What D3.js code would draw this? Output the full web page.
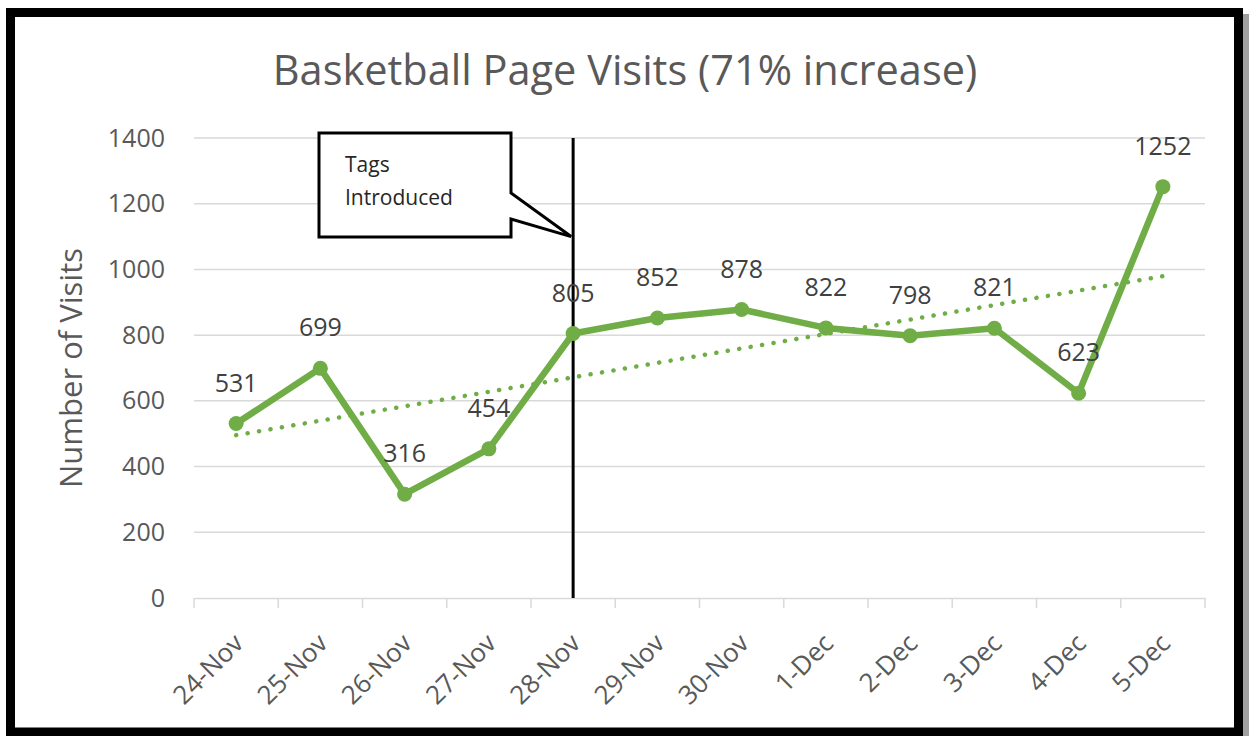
<!DOCTYPE html>
<html><head><meta charset="utf-8">
<script src="https://cdn.jsdelivr.net/npm/d3@7"></script>
<style>body{margin:0;background:#fff}svg{display:block}text{font-family:"Open Sans",sans-serif}</style>
</head><body><svg id="c" width="1249" height="736"></svg>
<script>
const categories=["24-Nov","25-Nov","26-Nov","27-Nov","28-Nov","29-Nov","30-Nov","1-Dec","2-Dec","3-Dec","4-Dec","5-Dec"];
const visits=[531,699,316,454,805,852,878,822,798,821,623,1252];
const yTicks=[0,200,400,600,800,1000,1200,1400];
const markerCategory="28-Nov";
const titleText="Basketball Page Visits (71% increase)";
const yTitle="Number of Visits";
const calloutLines=["Tags","Introduced"];

const svg=d3.select("#c");
const green="#70AD47";
// shadow + frame
svg.append("rect").attr("x",14).attr("y",14).attr("width",1235).attr("height",722).attr("fill","#a0a0a0");
svg.append("rect").attr("x",10.5).attr("y",12.5).attr("width",1228).attr("height",719.5).attr("fill","#fff").attr("stroke","#000").attr("stroke-width",9);

const x=d3.scaleBand().domain(categories).range([194,1205]);
const y=d3.scaleLinear().domain([0,1400]).range([598,138]);

// gridlines
svg.append("g").selectAll("line").data(yTicks.filter(d=>d>0)).join("line")
 .attr("x1",194).attr("x2",1205).attr("y1",d=>y(d)).attr("y2",d=>y(d))
 .attr("stroke","#d9d9d9").attr("stroke-width",1.5);
// x axis
const gx=svg.append("g").attr("transform","translate(0,598)")
 .call(d3.axisBottom(x).tickSize(0).tickFormat(""));
gx.select(".domain").attr("stroke","#d9d9d9").attr("stroke-width",1.5);
const bounds=categories.map(c=>x(c)).concat([x(categories[categories.length-1])+x.bandwidth()]);
svg.append("g").selectAll("line").data(bounds).join("line")
 .attr("x1",d=>d).attr("x2",d=>d).attr("y1",598).attr("y2",608).attr("stroke","#d9d9d9").attr("stroke-width",1.5);
svg.append("g").selectAll("text").data(categories).join("text")
 .attr("transform",d=>`translate(${x(d)+x.bandwidth()/2+4},${640}) rotate(-45)`)
 .attr("text-anchor","end").attr("dominant-baseline","middle")
 .attr("font-size",26).attr("fill","#595959").text(d=>d);
// y axis labels
const gy=svg.append("g").attr("transform","translate(194,0)")
 .call(d3.axisLeft(y).tickValues(yTicks).tickSize(0).tickPadding(29).tickFormat(d3.format("d")));
gy.select(".domain").remove();
gy.selectAll("text").attr("font-size",25).attr("fill","#595959").attr("font-family","'Open Sans',sans-serif");
// y title
svg.append("text").attr("transform","translate(74,368) rotate(-90)").attr("text-anchor","middle")
 .attr("dominant-baseline","middle").attr("font-size",31).attr("fill","#595959").text(yTitle);
// title
svg.append("text").attr("x",625).attr("y",85).attr("text-anchor","middle").attr("font-size",41.5).attr("fill","#595959").text(titleText);

// trendline (least squares)
const n=visits.length, xs=d3.range(1,n+1);
const mx=d3.mean(xs), my=d3.mean(visits);
const slope=d3.sum(xs,(v,i)=>(v-mx)*(visits[i]-my))/d3.sum(xs,v=>(v-mx)**2);
const icpt=my-slope*mx;
const cx=i=>x(categories[i])+x.bandwidth()/2;
svg.append("line").attr("x1",cx(0)).attr("x2",cx(n-1))
 .attr("y1",y(icpt+slope*1)).attr("y2",y(icpt+slope*n))
 .attr("stroke",green).attr("stroke-width",4.5).attr("stroke-linecap","round").attr("stroke-dasharray","0.1 11.5");

// vertical marker line
const vx=x(markerCategory)+x.bandwidth()/2;
svg.append("line").attr("x1",vx).attr("x2",vx).attr("y1",y(1400)).attr("y2",y(0)).attr("stroke","#000").attr("stroke-width",3);

// series line
svg.append("path").datum(visits).attr("fill","none").attr("stroke",green).attr("stroke-width",6.5).attr("stroke-linejoin","round")
 .attr("d",d3.line().x((d,i)=>cx(i)).y(d=>y(d)));
svg.append("g").selectAll("circle").data(visits).join("circle")
 .attr("cx",(d,i)=>cx(i)).attr("cy",d=>y(d)).attr("r",7.5).attr("fill",green);
svg.append("g").selectAll("text").data(visits).join("text")
 .attr("x",(d,i)=>cx(i)).attr("y",d=>y(d)-32).attr("text-anchor","middle")
 .attr("font-size",25).attr("fill","#404040").text(d=>d);

// callout
const bx0=319,bx1=511,by0=133,by1=237;
const tipY=y(1100);
svg.append("path").attr("d",`M${bx0},${by0} L${bx1},${by0} L${bx1},193 L${vx-2},${tipY} L${bx1},219 L${bx1},${by1} L${bx0},${by1} Z`)
 .attr("fill","#fff").attr("stroke","#000").attr("stroke-width",3).attr("stroke-linejoin","miter");
svg.append("g").selectAll("text").data(calloutLines).join("text")
 .attr("x",345).attr("y",(d,i)=>172+i*33).attr("font-size",21).attr("fill","#262626").text(d=>d);
</script></body></html>
